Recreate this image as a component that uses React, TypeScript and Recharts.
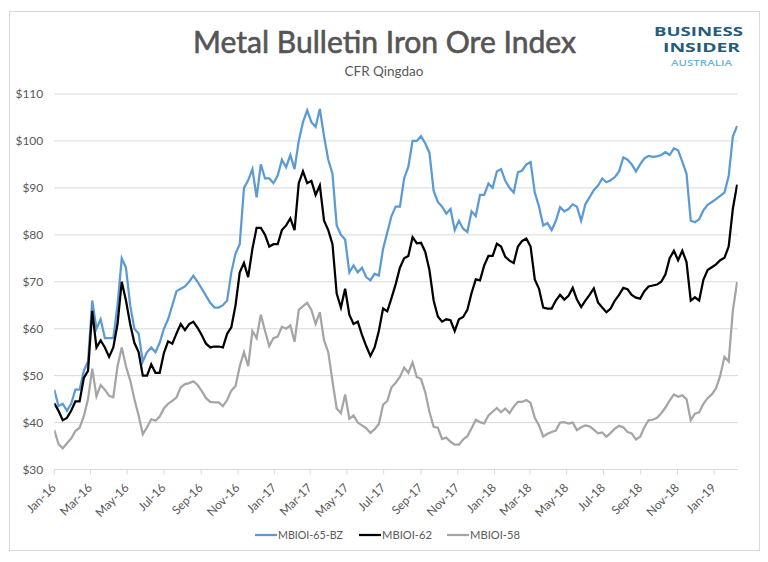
import React from "react";
import { LineChart, Line, XAxis, YAxis, CartesianGrid } from "recharts";

// Weekly readings, first week starting 1 Jan 2016
const blue65 = [
  47, 43.5, 44, 42.5, 44, 47, 47, 51, 53, 66,
  60, 62, 58, 58, 58, 65, 75, 73, 65, 60,
  59, 53, 55, 56, 55, 57, 60, 62, 65, 68,
  68.5, 69, 70, 71.3, 70, 68.5, 67, 65.5, 64.5, 64.5,
  65, 66, 72, 76, 78, 90, 91.6, 94, 88, 95,
  92, 92, 91, 92.6, 96, 94.4, 97, 94, 100, 104,
  106.5, 104, 103, 106.8, 101, 96, 93, 82, 80, 79,
  72, 73.5, 72, 73, 71, 70.3, 71.7, 71.3, 77, 80.5,
  84, 86, 86, 92, 94.5, 100, 100, 101, 99.5, 97.5,
  89.4, 87, 86, 84.5, 85.5, 81, 83, 81.3, 80.6, 85,
  84, 88.5, 88.5, 90.9, 90, 93.5, 94, 91.5, 90, 89,
  93.3, 93.7, 95, 95.5, 89, 86, 82, 82.5, 81, 83,
  85.9, 85, 85.5, 86.5, 86, 83, 86.5, 88, 89.5, 90.5,
  92, 91.2, 91.6, 92.3, 93.5, 96.5, 96, 95, 93.5, 95,
  96.3, 96.8, 96.6, 96.7, 97, 97.6, 97, 98.4, 98, 95.6,
  93, 83, 82.7, 83.3, 85.2, 86.4, 87, 87.6, 88.3, 89,
  92.5, 101, 103.2,
];

const black62 = [
  44.1, 42.5, 40.5, 41, 42.5, 44.5, 44.5, 49.5, 51, 63.8,
  56, 57.5, 56, 54, 56, 61, 70, 66, 61, 57,
  55, 50, 50, 52.4, 50.6, 50.6, 54.8, 57.3, 56.8, 59,
  61, 59.7, 61, 61.5, 60.2, 58.6, 56.8, 56, 56.2, 56.2,
  56, 58.9, 60.3, 65, 72, 74, 71, 77, 81.5, 81.5,
  80, 77.5, 78, 78, 81, 82, 83.5, 81, 91, 93.5,
  91, 91.5, 88.5, 90.5, 83, 81, 78, 67.5, 64.5, 68.5,
  63, 61, 61.5, 58.7, 56.3, 54.2, 56, 59.5, 64.3, 63.7,
  66.5, 69.5, 73, 75, 75.5, 79.5, 78.2, 78.3, 76.4, 72.5,
  66, 62.6, 61.5, 62, 61.8, 59.5, 62, 62.5, 64, 67.6,
  70.5, 70.3, 73.5, 75.5, 75.5, 78.1, 77.5, 75.3, 74.5, 74,
  77.5, 78.7, 79.2, 77.5, 70.5, 68.5, 64.5, 64.3, 64.3, 66,
  67.2, 66.2, 67, 68.7, 66.2, 64.6, 66, 67.2, 68.6, 65.6,
  64.5, 63.5, 64.3, 66, 67.2, 68.7, 68.4, 67.2, 66.6, 66.4,
  68, 69, 69.2, 69.4, 70, 71.6, 75, 76.6, 74.6, 76.6,
  74.2, 66, 66.7, 66, 70.4, 72.5, 73.1, 73.7, 74.6, 75.1,
  77.5, 85.6, 90.7,
];

const grey58 = [
  38.4, 35.4, 34.5, 35.6, 36.6, 38.2, 38.9, 41.3, 45, 51.5,
  45.6, 48, 47, 45.7, 45.4, 52, 56, 52, 49, 45,
  41.5, 37.5, 39, 40.7, 40.4, 41.3, 43, 44, 44.6, 45.4,
  47.5, 48.2, 48.4, 48.8, 48, 46.7, 45.2, 44.4, 44.3, 44.3,
  43.5, 44.8, 46.8, 47.8, 52, 55, 52, 59.5, 58, 63,
  59.5, 56.3, 58, 58.3, 60.4, 60, 60.7, 57.2, 64, 64.8,
  65.5, 64, 61, 63.5, 57.5, 55, 48.8, 43, 42, 46,
  40.8, 41.5, 40, 39.4, 38.8, 37.8, 38.6, 39.7, 43.8, 44.6,
  47.5, 48.5, 49.7, 51.7, 50.6, 52.8, 49.7, 49.3, 46.5, 42.3,
  39.1, 38.9, 36.5, 36.8, 35.9, 35.3, 35.3, 36.4, 37.1, 38.8,
  40.6, 40.1, 39.8, 41.5, 42.3, 43.1, 42.2, 43, 42, 43.4,
  44.4, 44.4, 44.8, 44.2, 41, 39.4, 37, 37.6, 38, 38.3,
  40, 40.1, 39.8, 40, 38.4, 39, 39.4, 39.2, 38.5, 37.7,
  37.9, 37, 37.8, 38.7, 39.3, 39, 38, 37.7, 36.4, 37,
  39, 40.5, 40.6, 41, 42, 43.2, 44.7, 46, 45.5, 45.8,
  45, 40.5, 41.9, 42.2, 44, 45.2, 46, 47.3, 50, 54,
  53, 63.9, 69.9,
];

// days since 1 Jan 2016 for each weekly reading
const weekDays = blue65.map((_, i) => i * 7);

const tickDays = [0, 60, 121, 182, 244, 305, 366, 425, 486, 547, 609, 670, 731, 790, 851, 912, 974, 1035, 1096];
const tickLabels = [
  "Jan-16", "Mar-16", "May-16", "Jul-16", "Sep-16", "Nov-16",
  "Jan-17", "Mar-17", "May-17", "Jul-17", "Sep-17", "Nov-17",
  "Jan-18", "Mar-18", "May-18", "Jul-18", "Sep-18", "Nov-18", "Jan-19",
];
const yTicks = [30, 40, 50, 60, 70, 80, 90, 100, 110];

const seriesNames = ["MBIOI-65-BZ", "MBIOI-62", "MBIOI-58"];
const seriesColors = ["#5b9bd5", "#000000", "#a5a5a5"];

const data = weekDays.map((d, i) => ({
  day: d,
  s65: blue65[i],
  s62: black62[i],
  s58: grey58[i],
}));

const FONT = "Lato, 'Open Sans', sans-serif";
const TXT = "#595959";

const XTick = (props: any) => {
  const { x, y, payload } = props;
  const idx = tickDays.indexOf(payload.value);
  const label = idx >= 0 ? tickLabels[idx] : "";
  const ax = x + 2.5;
  const ay = y + 12;
  return (
    <text
      x={ax}
      y={ay}
      transform={`rotate(-45 ${ax} ${ay})`}
      textAnchor="end"
      fill={TXT}
      fontSize={12}
      fontFamily={FONT}
    >
      {label}
    </text>
  );
};

const legendX = [255, 359, 447];
const legendTextW = [65, 50, 50];

export default function App() {
  return (
    <div style={{ position: "fixed", left: 0, top: 0, width: 768, height: 562, background: "#fff" }}>
      <div style={{ position: "absolute", left: 0, top: 0 }}>
        <LineChart
          width={768}
          height={562}
          data={data}
          margin={{ top: 94, right: 30.3, bottom: 62.5, left: 4.3 }}
        >
          <CartesianGrid horizontal vertical={false} stroke="#d9d9d9" strokeWidth={1} />
          <XAxis
            dataKey="day"
            type="number"
            domain={[0, 1135]}
            ticks={tickDays}
            interval={0}
            height={30}
            axisLine={{ stroke: "#d9d9d9" }}
            tickLine={{ stroke: "#d9d9d9" }}
            tickSize={5}
            tick={<XTick />}
            allowDataOverflow
          />
          <YAxis
            type="number"
            domain={[30, 110]}
            ticks={yTicks}
            interval={0}
            width={50}
            axisLine={false}
            tickLine={false}
            tickSize={0}
            tickMargin={11}
            tick={{ fill: TXT, fontSize: 12, fontFamily: FONT }}
            tickFormatter={(v: number) => `$${v}`}
          />
          <Line dataKey="s65" stroke={seriesColors[0]} strokeWidth={2.25} dot={false} type="linear" isAnimationActive={false} />
          <Line dataKey="s62" stroke={seriesColors[1]} strokeWidth={2.25} dot={false} type="linear" isAnimationActive={false} />
          <Line dataKey="s58" stroke={seriesColors[2]} strokeWidth={2.25} dot={false} type="linear" isAnimationActive={false} />
        </LineChart>
      </div>
      <svg
        width={768}
        height={562}
        style={{ position: "absolute", left: 0, top: 0, pointerEvents: "none" }}
      >
        <rect x={9.5} y={11.5} width={750} height={539} fill="none" stroke="#d9d9d9" strokeWidth={1} />
        <text
          x={193}
          y={52.5}
          fontSize={30}
          fontFamily={FONT}
          fill="#555555"
          stroke="#555555"
          strokeWidth={0.6}
          textLength={383}
          lengthAdjust="spacingAndGlyphs"
        >
          Metal Bulletin Iron Ore Index
        </text>
        <text
          x={344.5}
          y={76}
          fontSize={13}
          fontFamily={FONT}
          fill={TXT}
          textLength={79}
          lengthAdjust="spacingAndGlyphs"
        >
          CFR Qingdao
        </text>
        <text x={654} y={35.5} fontSize={13} fontWeight={700} fontFamily="'Open Sans', sans-serif" fill="#245c7c" textLength={89} lengthAdjust="spacingAndGlyphs">
          BUSINESS
        </text>
        <text x={663} y={52} fontSize={13} fontWeight={700} fontFamily="'Open Sans', sans-serif" fill="#245c7c" textLength={77} lengthAdjust="spacingAndGlyphs">
          INSIDER
        </text>
        <text x={671} y={65.5} fontSize={8} fontWeight={600} fontFamily="'Open Sans', sans-serif" fill="#6cb4d4" textLength={61} lengthAdjust="spacingAndGlyphs">
          AUSTRALIA
        </text>
        {seriesNames.map((name, i) => (
          <g key={name}>
            <line x1={legendX[i]} x2={legendX[i] + 22} y1={535} y2={535} stroke={seriesColors[i]} strokeWidth={2.25} />
            <text
              x={legendX[i] + 23}
              y={539.3}
              fontSize={12}
              fontFamily={FONT}
              fill={TXT}
              textLength={legendTextW[i]}
              lengthAdjust="spacingAndGlyphs"
            >
              {name}
            </text>
          </g>
        ))}
      </svg>
    </div>
  );
}
